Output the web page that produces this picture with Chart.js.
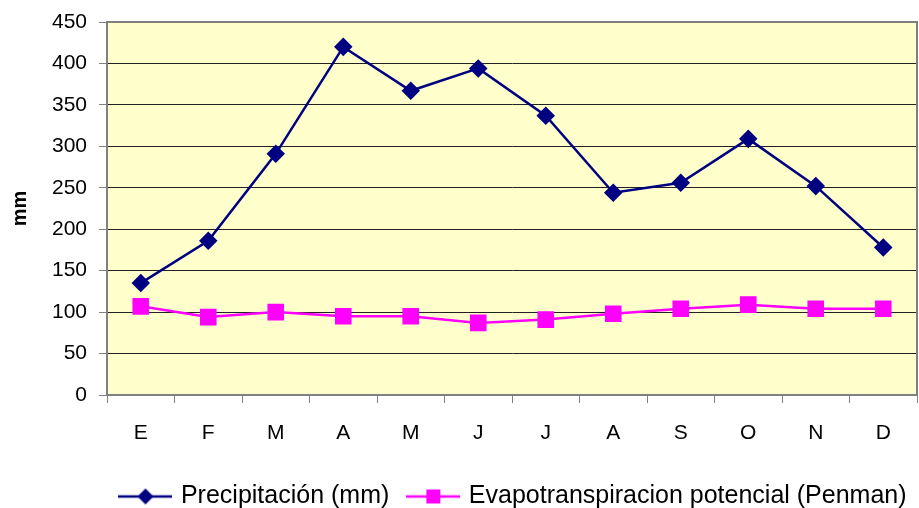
<!DOCTYPE html>
<html>
<head>
<meta charset="utf-8">
<script src="https://cdn.jsdelivr.net/npm/chart.js@4"></script>
<style>
  html, body { margin: 0; padding: 0; background: #fff; }
  #wrap { width: 919px; height: 508px; }
</style>
</head>
<body>
<div id="wrap"><canvas id="chart" width="919" height="508"></canvas></div>
<script>
let months = ['E', 'F', 'M', 'A', 'M', 'J', 'J', 'A', 'S', 'O', 'N', 'D'];
let precipitacion = [135, 186, 291, 420, 367, 394, 337, 244, 256, 309, 252, 178];
let evapotranspiracion = [107, 94, 100, 95, 95, 87, 91, 98, 104, 109, 104, 104];
let yTicks = [0, 50, 100, 150, 200, 250, 300, 350, 400, 450];

const FONT = 'Arial, "Liberation Sans", sans-serif';

// legend swatch: short line with the marker in the middle
function legendSwatch(color, shape) {
    let c = document.createElement('canvas');
    c.width = 54;
    c.height = 18;
    let g = c.getContext('2d');
    g.strokeStyle = color;
    g.lineWidth = 2.5;
    g.beginPath();
    g.moveTo(0, 9);
    g.lineTo(54, 9);
    g.stroke();
    g.fillStyle = color;
    if (shape == 'diamond') {
        g.beginPath();
        g.moveTo(27, 1);
        g.lineTo(35, 9);
        g.lineTo(27, 17);
        g.lineTo(19, 9);
        g.closePath();
        g.fill();
    } else {
        g.fillRect(20, 2, 14, 14);
    }
    return c;
}

function noPadding(scale) {
    scale.paddingLeft = 0;
    scale.paddingRight = 0;
    scale.paddingTop = 0;
    scale.paddingBottom = 0;
}

const plotBg = {
    id: 'plotBg',
    afterLayout(chart) {
        // legend in the original sits right of centre and a bit lower
        const lg = chart.legend;
        lg.left += 56;
        lg.right += 56;
        lg.top += 11;
        lg.bottom += 11;
    },
    beforeDraw(chart) {
        const a = chart.chartArea;
        const ctx = chart.ctx;
        ctx.save();
        ctx.fillStyle = '#FFFFCC';
        ctx.fillRect(a.left, a.top, a.right - a.left, a.bottom - a.top);
        ctx.restore();
    },
    afterDatasetsDraw(chart) {
        const a = chart.chartArea;
        const ctx = chart.ctx;
        ctx.save();
        ctx.strokeStyle = '#808080';
        ctx.lineWidth = 2;
        ctx.beginPath();
        ctx.moveTo(a.left, a.top);
        ctx.lineTo(a.right, a.top);
        ctx.lineTo(a.right, a.bottom);
        ctx.stroke();
        ctx.restore();
    }
};

function createChart() {
    const ctx = document.getElementById('chart');

    new Chart(ctx, {
        type: 'line',
        data: {
            labels: months,
            datasets: [{
                label: 'Precipitación (mm)',
                data: precipitacion,
                borderColor: '#000080',
                backgroundColor: '#000080',
                borderWidth: 2.5,
                pointStyle: 'rectRot',
                pointRadius: 7.5,
                pointHoverRadius: 7.5,
                tension: 0
            }, {
                label: 'Evapotranspiracion potencial (Penman)',
                data: evapotranspiracion,
                borderColor: '#FF00FF',
                backgroundColor: '#FF00FF',
                borderWidth: 2.5,
                pointStyle: 'rect',
                pointRadius: 10,
                pointHoverRadius: 10,
                tension: 0
            }]
        },
        options: {
            responsive: false,
            animation: false,
            layout: {
                autoPadding: false,
                padding: { left: 0, right: 2, top: 22, bottom: 0 }
            },
            plugins: {
                tooltip: { enabled: false },
                legend: {
                    position: 'bottom',
                    labels: {
                        usePointStyle: true,
                        pointStyleWidth: 46,
                        boxHeight: 18,
                        padding: 21,
                        color: '#000',
                        font: { family: FONT, size: 25 },
                        generateLabels: function(chart) {
                            return chart.data.datasets.map((ds, i) => ({
                                text: ds.label,
                                pointStyle: legendSwatch(ds.borderColor, i == 0 ? 'diamond' : 'square'),
                                fillStyle: ds.borderColor,
                                strokeStyle: ds.borderColor,
                                lineWidth: 0,
                                fontColor: '#000',
                                datasetIndex: i
                            }));
                        }
                    }
                }
            },
            scales: {
                x: {
                    offset: true,
                    grid: {
                        offset: true,
                        drawOnChartArea: false,
                        drawTicks: true,
                        tickLength: 8,
                        color: '#808080'
                    },
                    border: { color: '#808080', width: 2 },
                    ticks: {
                        color: '#000',
                        padding: 18,
                        font: { family: FONT, size: 21 }
                    },
                    afterFit: function(scale) {
                        scale.height = 57;
                        noPadding(scale);
                    }
                },
                y: {
                    min: 0,
                    max: 450,
                    afterBuildTicks: function(scale) {
                        scale.ticks = yTicks.map(v => ({ value: v }));
                    },
                    grid: {
                        color: '#222',
                        lineWidth: 1,
                        tickLength: 8,
                        tickColor: '#808080'
                    },
                    border: { color: '#808080', width: 2 },
                    ticks: {
                        color: '#000',
                        padding: 12,
                        font: { family: FONT, size: 21 }
                    },
                    title: {
                        display: true,
                        text: 'mm',
                        color: '#000',
                        padding: { top: 8, bottom: 10 },
                        font: { family: FONT, size: 20, weight: 'bold' }
                    },
                    afterFit: function(scale) {
                        scale.width = 107;
                        noPadding(scale);
                    }
                }
            }
        },
        plugins: [plotBg]
    });
}

createChart();
</script>
</body>
</html>
